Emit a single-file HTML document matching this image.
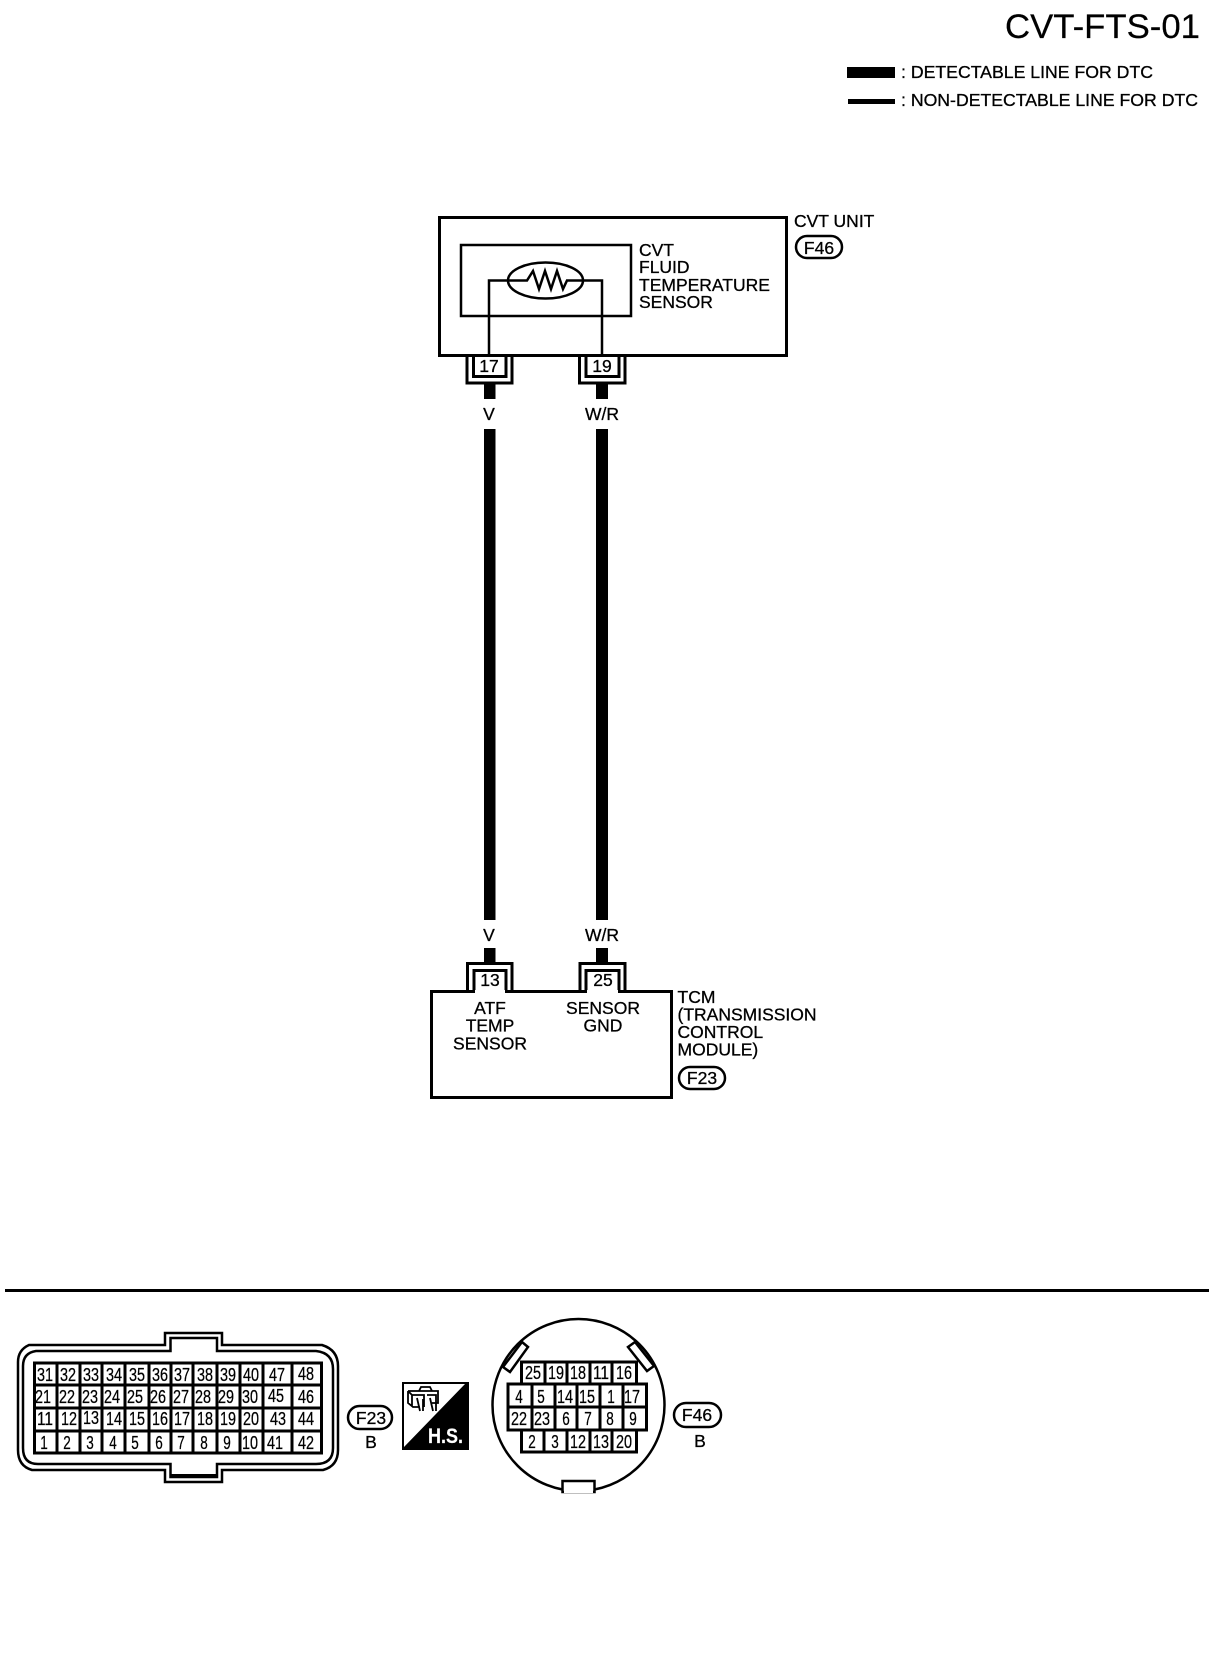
<!DOCTYPE html>
<html>
<head>
<meta charset="utf-8">
<style>
html,body{margin:0;padding:0;background:#fff;}
svg{display:block;}
text{font-family:"Liberation Sans",sans-serif;font-size:17.5px;fill:#000;stroke:#000;stroke-width:.3;}
.m{text-anchor:middle;}
.n{font-size:18px;text-anchor:middle;stroke-width:.25;}
.l{fill:none;stroke:#000;}
.w{fill:#fff;stroke:#000;}
</style>
</head>
<body>
<svg width="1216" height="1660" viewBox="0 0 1216 1660" xmlns="http://www.w3.org/2000/svg">
<rect width="1216" height="1660" fill="#fff"/>

<!-- Header and legend -->
<text x="1005" y="38" textLength="195" lengthAdjust="spacingAndGlyphs" style="font-size:34px;stroke-width:.2">CVT-FTS-01</text>
<rect x="847" y="67" width="48" height="11"/>
<rect x="848" y="99" width="47" height="5"/>
<text x="901" y="78" textLength="252" lengthAdjust="spacingAndGlyphs">: DETECTABLE LINE FOR DTC</text>
<text x="901" y="106" textLength="297" lengthAdjust="spacingAndGlyphs">: NON-DETECTABLE LINE FOR DTC</text>

<!-- CVT unit -->
<rect class="l" x="439.5" y="217.5" width="347" height="138" stroke-width="3"/>
<rect class="l" x="461" y="245" width="170" height="71" stroke-width="2.5"/>
<polyline class="l" stroke-width="2.5" points="489,356 489,280.5 527,280.5 533,271 539,289 545,271 551,289 557,271 563,289 567,280.5 602,280.5 602,356"/>
<ellipse class="l" cx="545.5" cy="280.5" rx="37.5" ry="18" stroke-width="2.5"/>
<text x="639" y="256">CVT</text>
<text x="639" y="273">FLUID</text>
<text x="639" y="291">TEMPERATURE</text>
<text x="639" y="308">SENSOR</text>
<text x="794" y="227">CVT UNIT</text>
<rect class="l" x="796" y="236" width="46" height="22" rx="11" stroke-width="2.5"/>
<text class="m" x="819" y="254">F46</text>

<!-- Top connector pins -->
<polyline class="l" stroke-width="3" points="467,356 467,383 512,383 512,356"/>
<polyline class="l" stroke-width="3" points="473.5,356 473.5,376.5 506,376.5 506,356"/>
<polyline class="l" stroke-width="3" points="579.500,356 579.500,383 625,383 625,356"/>
<polyline class="l" stroke-width="3" points="586,356 586,376.5 619,376.5 619,356"/>
<text class="m" x="489" y="372">17</text>
<text class="m" x="602" y="372">19</text>

<!-- Wires -->
<rect x="484" y="384" width="11.5" height="15"/>
<rect x="596" y="384" width="12" height="15"/>
<text class="m" x="489" y="420">V</text>
<text class="m" x="602" y="420">W/R</text>
<rect x="484" y="429" width="11.5" height="491"/>
<rect x="596" y="429" width="12" height="491"/>
<text class="m" x="489" y="941">V</text>
<text class="m" x="602" y="941">W/R</text>
<rect x="484" y="948" width="11.5" height="14"/>
<rect x="596" y="948" width="12" height="14"/>

<!-- Bottom connector pins -->
<polyline class="l" stroke-width="3" points="467.5,990 467.5,963.5 512,963.5 512,990"/>
<polyline class="l" stroke-width="3" points="474,992 474,970.5 506,970.5 506,992"/>
<polyline class="l" stroke-width="3" points="580,990 580,963.5 625,963.5 625,990"/>
<polyline class="l" stroke-width="3" points="586,992 586,970.5 619,970.5 619,992"/>
<text class="m" x="490" y="986">13</text>
<text class="m" x="603" y="986">25</text>

<!-- TCM -->
<rect class="l" x="431.5" y="991.5" width="240" height="106" stroke-width="3"/>
<rect x="475" y="990" width="30" height="3" fill="#fff"/>
<rect x="587" y="990" width="31" height="3" fill="#fff"/>
<text class="m" x="490" y="1014">ATF</text>
<text class="m" x="490" y="1031.500">TEMP</text>
<text class="m" x="490" y="1049.500">SENSOR</text>
<text class="m" x="603" y="1014">SENSOR</text>
<text class="m" x="603" y="1031.500">GND</text>
<text x="677.500" y="1003">TCM</text>
<text x="677.500" y="1020.500">(TRANSMISSION</text>
<text x="677.500" y="1038">CONTROL</text>
<text x="677.500" y="1055.500">MODULE)</text>
<rect class="l" x="679" y="1067" width="46" height="22" rx="11" stroke-width="2.5"/>
<text class="m" x="702" y="1084">F23</text>

<!-- Divider -->
<rect x="5" y="1289" width="1204" height="3"/>

<!-- F23 connector -->
<path class="l" stroke-width="2.5" d="M29,1345 H165 V1333 H222 V1345 H322 Q338,1350 338,1366 V1450 Q338,1466 323,1470 H222 V1482 H165 V1470 H32 Q18,1466 18,1450 V1362 Q18,1350 29,1345 Z"/>
<path class="l" stroke-width="2.5" d="M36,1351 H170.500 V1338 H217 V1351 H316 Q333,1353 333,1369 V1448 Q333,1464 316,1464 H217 V1477 H170.500 V1464 H38 Q23,1464 23,1448 V1366 Q23,1353 36,1351 Z"/>
<rect x="171" y="1474" width="46" height="3"/>
<rect class="w" x="34.500" y="1363" width="287" height="90" stroke-width="3"/>
<path class="l" stroke-width="3" d="M34,1385 H322 M34,1408 H322 M34,1431 H322 M57,1363 V1453 M80,1363 V1453 M102,1363 V1453 M125,1363 V1453 M149,1363 V1453 M171,1363 V1453 M193,1363 V1453 M217,1363 V1453 M240,1363 V1453 M263,1363 V1453 M292,1363 V1453"/>
<g>
<text class="n" x="45" y="1381" textLength="16" lengthAdjust="spacingAndGlyphs">31</text>
<text class="n" x="68" y="1381" textLength="16" lengthAdjust="spacingAndGlyphs">32</text>
<text class="n" x="91" y="1381" textLength="16" lengthAdjust="spacingAndGlyphs">33</text>
<text class="n" x="114" y="1381" textLength="16" lengthAdjust="spacingAndGlyphs">34</text>
<text class="n" x="137" y="1381" textLength="16" lengthAdjust="spacingAndGlyphs">35</text>
<text class="n" x="160" y="1381" textLength="16" lengthAdjust="spacingAndGlyphs">36</text>
<text class="n" x="182" y="1381" textLength="16" lengthAdjust="spacingAndGlyphs">37</text>
<text class="n" x="205" y="1381" textLength="16" lengthAdjust="spacingAndGlyphs">38</text>
<text class="n" x="228" y="1381" textLength="16" lengthAdjust="spacingAndGlyphs">39</text>
<text class="n" x="251" y="1381" textLength="16" lengthAdjust="spacingAndGlyphs">40</text>
<text class="n" x="277" y="1381" textLength="16" lengthAdjust="spacingAndGlyphs">47</text>
<text class="n" x="306" y="1380" textLength="16" lengthAdjust="spacingAndGlyphs">48</text>
<text class="n" x="43" y="1403" textLength="16" lengthAdjust="spacingAndGlyphs">21</text>
<text class="n" x="67" y="1403" textLength="16" lengthAdjust="spacingAndGlyphs">22</text>
<text class="n" x="90" y="1403" textLength="16" lengthAdjust="spacingAndGlyphs">23</text>
<text class="n" x="112" y="1403" textLength="16" lengthAdjust="spacingAndGlyphs">24</text>
<text class="n" x="135" y="1403" textLength="16" lengthAdjust="spacingAndGlyphs">25</text>
<text class="n" x="158" y="1403" textLength="16" lengthAdjust="spacingAndGlyphs">26</text>
<text class="n" x="181" y="1403" textLength="16" lengthAdjust="spacingAndGlyphs">27</text>
<text class="n" x="203" y="1403" textLength="16" lengthAdjust="spacingAndGlyphs">28</text>
<text class="n" x="226" y="1403" textLength="16" lengthAdjust="spacingAndGlyphs">29</text>
<text class="n" x="250" y="1403" textLength="16" lengthAdjust="spacingAndGlyphs">30</text>
<text class="n" x="276" y="1402" textLength="16" lengthAdjust="spacingAndGlyphs">45</text>
<text class="n" x="306" y="1403" textLength="16" lengthAdjust="spacingAndGlyphs">46</text>
<text class="n" x="45" y="1425" textLength="16" lengthAdjust="spacingAndGlyphs">11</text>
<text class="n" x="69" y="1425" textLength="16" lengthAdjust="spacingAndGlyphs">12</text>
<text class="n" x="91" y="1424" textLength="16" lengthAdjust="spacingAndGlyphs">13</text>
<text class="n" x="114" y="1425" textLength="16" lengthAdjust="spacingAndGlyphs">14</text>
<text class="n" x="137" y="1425" textLength="16" lengthAdjust="spacingAndGlyphs">15</text>
<text class="n" x="160" y="1425" textLength="16" lengthAdjust="spacingAndGlyphs">16</text>
<text class="n" x="182" y="1425" textLength="16" lengthAdjust="spacingAndGlyphs">17</text>
<text class="n" x="205" y="1425" textLength="16" lengthAdjust="spacingAndGlyphs">18</text>
<text class="n" x="228" y="1425" textLength="16" lengthAdjust="spacingAndGlyphs">19</text>
<text class="n" x="251" y="1425" textLength="16" lengthAdjust="spacingAndGlyphs">20</text>
<text class="n" x="278" y="1425" textLength="16" lengthAdjust="spacingAndGlyphs">43</text>
<text class="n" x="306" y="1425" textLength="16" lengthAdjust="spacingAndGlyphs">44</text>
<text class="n" x="44" y="1449" textLength="7.500" lengthAdjust="spacingAndGlyphs">1</text>
<text class="n" x="67" y="1449" textLength="7.500" lengthAdjust="spacingAndGlyphs">2</text>
<text class="n" x="90" y="1449" textLength="7.500" lengthAdjust="spacingAndGlyphs">3</text>
<text class="n" x="113" y="1449" textLength="7.500" lengthAdjust="spacingAndGlyphs">4</text>
<text class="n" x="135" y="1449" textLength="7.500" lengthAdjust="spacingAndGlyphs">5</text>
<text class="n" x="159" y="1449" textLength="7.500" lengthAdjust="spacingAndGlyphs">6</text>
<text class="n" x="181" y="1449" textLength="7.500" lengthAdjust="spacingAndGlyphs">7</text>
<text class="n" x="204" y="1449" textLength="7.500" lengthAdjust="spacingAndGlyphs">8</text>
<text class="n" x="227" y="1449" textLength="7.500" lengthAdjust="spacingAndGlyphs">9</text>
<text class="n" x="250" y="1449" textLength="16" lengthAdjust="spacingAndGlyphs">10</text>
<text class="n" x="275" y="1449" textLength="16" lengthAdjust="spacingAndGlyphs">41</text>
<text class="n" x="306" y="1449" textLength="16" lengthAdjust="spacingAndGlyphs">42</text>
</g>
<rect class="l" x="348" y="1406" width="44" height="23" rx="11.500" stroke-width="2.500"/>
<text class="m" x="371" y="1424">F23</text>
<text class="m" x="371" y="1448">B</text>

<!-- H.S. symbol -->
<rect x="402" y="1382" width="67" height="68"/>
<polygon points="404,1384 465,1384 404,1447" fill="#fff"/>
<path class="l" stroke-width="1.800" d="M408,1391 H438 V1403 H432 M408,1391 V1403 L413,1407 H420 M412,1395 H424 V1407 M427,1395 H436 V1404 M412,1395 V1407 M419,1391 L421,1387 H430 L432,1391 M408,1391 L412,1395 M417,1398 L420,1411 M423,1399 V1411 M430,1398 L433,1411 M436,1399 V1411"/>
<text x="428" y="1443" textLength="35" lengthAdjust="spacingAndGlyphs" style="font-size:21px;font-weight:bold;fill:#fff;stroke:#fff;stroke-width:.2">H.S.</text>

<!-- F46 connector -->
<circle class="l" cx="578.500" cy="1405" r="86" stroke-width="2.500"/>
<polygon class="w" stroke-width="2.500" points="522,1342 528,1347 510,1372 503,1367"/>
<polygon class="w" stroke-width="2.500" points="635,1342 628,1347 647,1371 654,1366"/>
<rect class="w" x="562.500" y="1481" width="32" height="11" stroke-width="2.500"/>
<rect x="564" y="1490" width="29" height="3" fill="#fff"/>
<path class="w" stroke-width="3" d="M521.500,1362 H636.500 V1384 H646.500 V1430 H636.500 V1452 H521.500 V1430 H508 V1384 H521.500 Z"/>
<path class="l" stroke-width="3" d="M508,1384 H646 M508,1407 H646 M508,1430 H646 M545,1362 V1384 M567,1362 V1384 M590,1362 V1384 M612,1362 V1384 M532,1384 V1430 M555,1384 V1430 M577,1384 V1430 M600,1384 V1430 M623,1384 V1430 M544,1430 V1452 M567,1430 V1452 M590,1430 V1452 M612,1430 V1452"/>
<text class="n" x="533" y="1379" textLength="16" lengthAdjust="spacingAndGlyphs">25</text>
<text class="n" x="556" y="1379" textLength="16" lengthAdjust="spacingAndGlyphs">19</text>
<text class="n" x="578" y="1379" textLength="16" lengthAdjust="spacingAndGlyphs">18</text>
<text class="n" x="601" y="1379" textLength="16" lengthAdjust="spacingAndGlyphs">11</text>
<text class="n" x="624" y="1379" textLength="16" lengthAdjust="spacingAndGlyphs">16</text>
<text class="n" x="519" y="1403" textLength="7.500" lengthAdjust="spacingAndGlyphs">4</text>
<text class="n" x="541" y="1403" textLength="7.500" lengthAdjust="spacingAndGlyphs">5</text>
<text class="n" x="565" y="1403" textLength="16" lengthAdjust="spacingAndGlyphs">14</text>
<text class="n" x="587" y="1403" textLength="16" lengthAdjust="spacingAndGlyphs">15</text>
<text class="n" x="611" y="1403" textLength="7.500" lengthAdjust="spacingAndGlyphs">1</text>
<text class="n" x="632" y="1403" textLength="16" lengthAdjust="spacingAndGlyphs">17</text>
<text class="n" x="519" y="1425" textLength="16" lengthAdjust="spacingAndGlyphs">22</text>
<text class="n" x="542" y="1425" textLength="16" lengthAdjust="spacingAndGlyphs">23</text>
<text class="n" x="566" y="1425" textLength="7.500" lengthAdjust="spacingAndGlyphs">6</text>
<text class="n" x="588" y="1425" textLength="7.500" lengthAdjust="spacingAndGlyphs">7</text>
<text class="n" x="610" y="1425" textLength="7.500" lengthAdjust="spacingAndGlyphs">8</text>
<text class="n" x="633" y="1425" textLength="7.500" lengthAdjust="spacingAndGlyphs">9</text>
<text class="n" x="532" y="1448" textLength="7.500" lengthAdjust="spacingAndGlyphs">2</text>
<text class="n" x="555" y="1448" textLength="7.500" lengthAdjust="spacingAndGlyphs">3</text>
<text class="n" x="578" y="1448" textLength="16" lengthAdjust="spacingAndGlyphs">12</text>
<text class="n" x="601" y="1448" textLength="16" lengthAdjust="spacingAndGlyphs">13</text>
<text class="n" x="624" y="1448" textLength="16" lengthAdjust="spacingAndGlyphs">20</text>
<rect class="l" x="674" y="1403" width="47" height="24" rx="12" stroke-width="2.500"/>
<text class="m" x="697" y="1421">F46</text>
<text class="m" x="700" y="1447">B</text>
</svg>
</body>
</html>
